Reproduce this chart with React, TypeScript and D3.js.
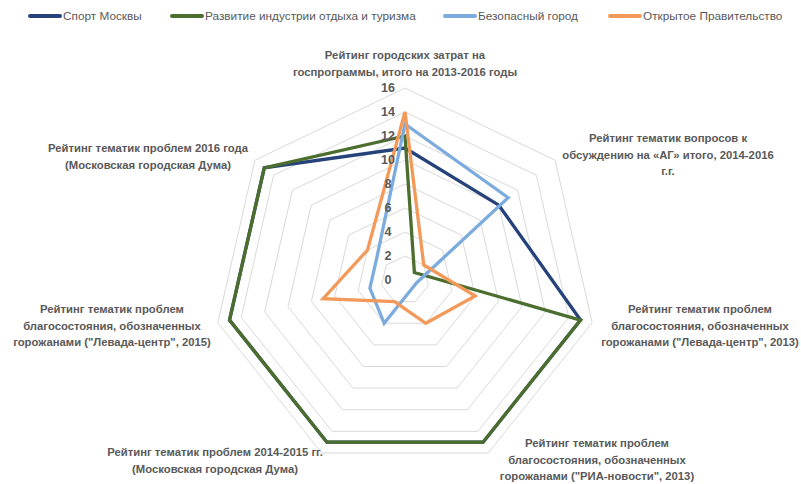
import React from 'react';
import * as d3 from 'd3';

const categories = [
  ['Рейтинг городских затрат на', 'госпрограммы, итого на 2013-2016 годы'],
  ['Рейтинг тематик вопросов к', 'обсуждению на «АГ» итого, 2014-2016', 'г.г.'],
  ['Рейтинг тематик проблем', 'благосостояния, обозначенных', 'горожанами ("Левада-центр", 2013)'],
  ['Рейтинг тематик проблем', 'благосостояния, обозначенных', 'горожанами ("РИА-новости", 2013)'],
  ['Рейтинг тематик проблем 2014-2015 гг.', '(Московская городская Дума)'],
  ['Рейтинг тематик проблем', 'благосостояния, обозначенных', 'горожанами ("Левада-центр", 2015)'],
  ['Рейтинг тематик проблем 2016 года', '(Московская городская Дума)'],
];

const seriesNames = ['Спорт Москвы', 'Развитие индустрии отдыха и туризма', 'Безопасный город', 'Открытое Правительство'];
const sportValues = [11, 10, 15, 15, 15, 15, 15];
const tourismValues = [12, 1, 15, 15, 15, 15, 15];
const safeCityValues = [13, 11, 1, 1, 4, 3, 3];
const openGovValues = [14, 2, 6, 4, 2, 7, 4];
const ticks = [0, 2, 4, 6, 8, 10, 12, 14, 16];

const colors = ['#25437a', '#4b6e2e', '#7cabde', '#f39a5a'];

// label anchor positions (center x, first line y)
const labelPos = [
  [405, 59], [668, 142], [700, 313], [597, 447], [215, 456], [112, 313], [148, 152],
];
const legendX = [30, 172, 445, 610];

export default function App() {
  const cx = 405;
  const cy = 280;
  const r = d3.scaleLinear().domain([0, 16]).range([0, 192]);
  const n = categories.length;
  const angle = (i: number) => (i * 2 * Math.PI) / n;

  const radial = d3
    .lineRadial<number>()
    .angle((_, i) => angle(i))
    .radius((d) => r(d))
    .curve(d3.curveLinearClosed);

  const series = [sportValues, tourismValues, safeCityValues, openGovValues];
  const font = 'Liberation Sans, Arial, sans-serif';

  return (
    <svg width={801} height={484} style={{ position: 'absolute', left: 0, top: 0, background: '#fff' }} fontFamily={font}>
      <rect width={801} height={484} fill="#fff" />
      <g transform={`translate(${cx},${cy})`}>
        {ticks.slice(1).map((t) => (
          <path key={t} d={radial(new Array(n).fill(t)) || ''} fill="none" stroke="#d9d9d9" strokeWidth={1} />
        ))}
        {series.map((vals, si) => (
          <path key={si} d={radial(vals) || ''} fill="none" stroke={colors[si]} strokeWidth={3.3} strokeLinejoin="miter" />
        ))}
        {ticks.map((t) => (
          <text key={t} x={-17} y={-r(t)} dy="0.35em" textAnchor="middle" fontSize={12.5} fontWeight="bold" fill="#595959">
            {t}
          </text>
        ))}
      </g>
      {categories.map((lines, i) => (
        <text key={i} textAnchor="middle" fontSize={11.3} fontWeight="bold" fill="#595959">
          {lines.map((l, j) => (
            <tspan key={j} x={labelPos[i][0]} y={labelPos[i][1] + j * 16.5}>
              {l}
            </tspan>
          ))}
        </text>
      ))}
      {seriesNames.map((name, i) => (
        <g key={name} transform={`translate(${legendX[i]},16)`}>
          <line x1={0} x2={30} y1={0} y2={0} stroke={colors[i]} strokeWidth={4} strokeLinecap="round" />
          <text x={33} y={0} dy="0.35em" fontSize={11.8} fill="#595959">
            {name}
          </text>
        </g>
      ))}
    </svg>
  );
}
